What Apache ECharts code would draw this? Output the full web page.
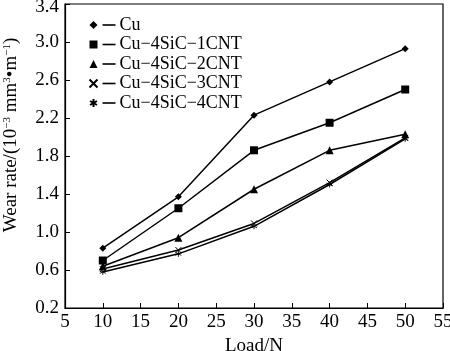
<!DOCTYPE html>
<html>
<head>
<meta charset="utf-8">
<script src="https://cdn.jsdelivr.net/npm/echarts@6/dist/echarts.min.js"></script>
<style>
  html, body { margin: 0; padding: 0; background: #fff; }
  #chart { width: 450px; height: 351px; }
</style>
</head>
<body>
<div id="chart"></div>
<script>
const loads = [10, 20, 30, 40, 50];
const seriesNames = ["Cu", "Cu−4SiC−1CNT", "Cu−4SiC−2CNT", "Cu−4SiC−3CNT", "Cu−4SiC−4CNT"];
const cu = [0.83, 1.37, 2.23, 2.58, 2.93];
const cnt1 = [0.70, 1.25, 1.86, 2.15, 2.50];
const cnt2 = [0.64, 0.94, 1.45, 1.86, 2.03];
const cnt3 = [0.61, 0.81, 1.09, 1.52, 1.99];
const cnt4 = [0.58, 0.77, 1.06, 1.50, 1.98];
const values = [cu, cnt1, cnt2, cnt3, cnt4];

const font = "'Liberation Serif', 'Times New Roman', serif";
const crossPath = "path://M0,0L10,10M10,0L0,10";
const starPath = "path://M5,0L5,10M0.7,2.5L9.3,7.5M0.7,7.5L9.3,2.5";

const marks = [
  { symbol: "diamond", size: 7, style: { color: "#000" } },
  { symbol: "rect", size: 8, style: { color: "#000" } },
  { symbol: "triangle", size: 8, style: { color: "#000" } },
  { symbol: crossPath, size: 6, style: { color: "none", borderColor: "#000", borderWidth: 1 } },
  { symbol: starPath, size: 6, style: { color: "none", borderColor: "#000", borderWidth: 0.9 } },
];

const chart = echarts.init(document.getElementById("chart"), null, { renderer: "canvas" });

const option = {
  animation: false,
  backgroundColor: "#fff",
  textStyle: { fontFamily: font, color: "#000" },
  grid: {
    left: 65, right: 7, top: 4, bottom: 43,
    outerBoundsMode: "none",
    show: true, borderColor: "#000", borderWidth: 1.2,
  },
  legend: {
    orient: "vertical",
    left: 82,
    top: 11,
    itemGap: 1.5,
    itemWidth: 8,
    itemHeight: 8,
    data: seriesNames.map((name, i) => ({ name, icon: marks[i].symbol })),
    textStyle: {
      fontFamily: font,
      fontSize: 18,
      color: "#000",
      rich: {
        l: { width: 13, height: 1.6, backgroundColor: "#000" },
        t: { fontFamily: font, fontSize: 18, color: "#000", padding: [0, 0, 0, 4] },
      },
    },
    formatter: (name) => `{l|}{t|${name}}`,
  },
  xAxis: {
    type: "value",
    min: 5,
    max: 55,
    interval: 5,
    name: "Load/N",
    nameLocation: "middle",
    nameGap: 23,
    nameTextStyle: { fontFamily: font, fontSize: 19, color: "#000" },
    axisLine: { lineStyle: { color: "#000", width: 1.2 } },
    axisTick: { inside: true, length: 5, lineStyle: { color: "#000" } },
    axisLabel: { fontFamily: font, fontSize: 19, color: "#000", margin: 5 },
    splitLine: { show: false },
  },
  yAxis: {
    type: "value",
    min: 0.2,
    max: 3.4,
    interval: 0.4,
    name: "{n|Wear rate/(10}{s|−3}{n| mm}{s|3}{n|•m}{s|−1}{n|)}",
    nameLocation: "middle",
    nameGap: 44,
    nameTextStyle: {
      padding: [0, 0, 0, 42],
      rich: {
        n: { fontFamily: font, fontSize: 19, color: "#000" },
        s: { fontFamily: font, fontSize: 11, color: "#000", verticalAlign: "top" },
      },
    },
    axisLine: { lineStyle: { color: "#000", width: 1.2 } },
    axisTick: { inside: true, length: 5, lineStyle: { color: "#000" } },
    axisLabel: {
      fontFamily: font,
      fontSize: 19,
      color: "#000",
      margin: 6,
      formatter: (v) => (v >= 3.39 ? `{top|${v.toFixed(1)}}` : v.toFixed(1)),
      rich: {
        top: { fontFamily: font, fontSize: 19, color: "#000", padding: [6, 0, 0, 0] },
      },
    },
    splitLine: { show: false },
  },
  series: seriesNames.map((name, i) => ({
    name,
    type: "line",
    data: loads.map((x, j) => [x, values[i][j]]),
    symbol: marks[i].symbol,
    symbolSize: marks[i].size,
    showAllSymbol: true,
    lineStyle: { color: "#000", width: 1.5 },
    itemStyle: marks[i].style,
    emphasis: { disabled: true },
  })),
};

chart.setOption(option);
</script>
</body>
</html>
